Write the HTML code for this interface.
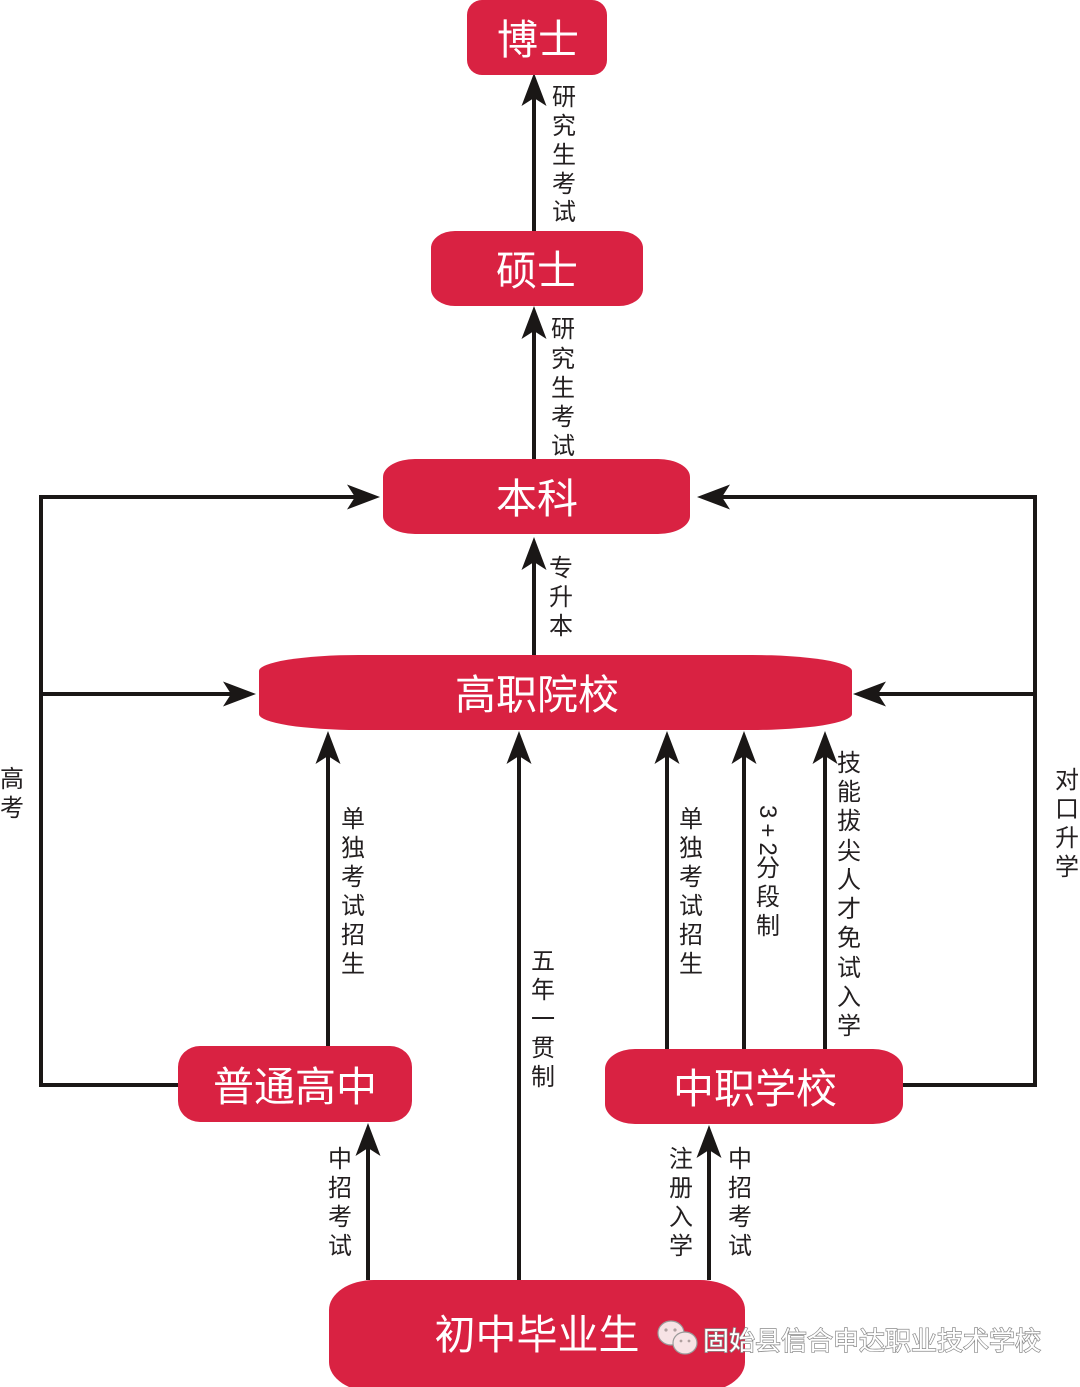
<!DOCTYPE html>
<html>
<head>
<meta charset="utf-8">
<style>
  html,body{margin:0;padding:0;background:#fff;}
  svg{display:block;}
  .lbl{font-family:"Liberation Sans","Noto Sans CJK SC",sans-serif;font-size:24px;fill:#231f20;text-anchor:middle;}
  .box{font-family:"Liberation Sans","Noto Sans CJK SC",sans-serif;font-size:41px;fill:#fff;text-anchor:middle;}
</style>
</head>
<body>
<svg width="1080" height="1387" viewBox="0 0 1080 1387" xmlns="http://www.w3.org/2000/svg">
  <defs>
    <path id="au" d="M0,0 L12.5,33 L0,25 L-12.5,33 Z" fill="#1a1716"/>
    <path id="al" d="M0,0 L33,-12.5 L25,0 L33,12.5 Z" fill="#1a1716"/>
    <path id="ar" d="M0,0 L-33,-12.5 L-25,0 L-33,12.5 Z" fill="#1a1716"/>
  </defs>

  <g stroke="#1a1716" stroke-width="4" fill="none">
    <line x1="534" y1="231" x2="534" y2="95"/>
    <line x1="534" y1="459" x2="534" y2="328"/>
    <line x1="534" y1="655" x2="534" y2="560"/>
    <polyline points="178,1085 41,1085 41,497 360,497"/>
    <line x1="41" y1="694" x2="235" y2="694"/>
    <polyline points="903,1085 1035,1085 1035,497 720,497"/>
    <line x1="1035" y1="694" x2="875" y2="694"/>
    <line x1="328" y1="1046" x2="328" y2="755"/>
    <line x1="519" y1="1280" x2="519" y2="755"/>
    <line x1="667" y1="1049" x2="667" y2="755"/>
    <line x1="744" y1="1049" x2="744" y2="755"/>
    <line x1="825" y1="1049" x2="825" y2="755"/>
    <line x1="368" y1="1280" x2="368" y2="1145"/>
    <line x1="709" y1="1280" x2="709" y2="1148"/>
  </g>

  <use href="#au" x="534" y="73"/>
  <use href="#au" x="534" y="306"/>
  <use href="#au" x="534" y="537"/>
  <use href="#ar" x="380" y="497"/>
  <use href="#ar" x="256" y="694"/>
  <use href="#al" x="697" y="497"/>
  <use href="#al" x="853" y="694"/>
  <use href="#au" x="328" y="731"/>
  <use href="#au" x="519" y="731"/>
  <use href="#au" x="667" y="731"/>
  <use href="#au" x="744" y="731"/>
  <use href="#au" x="825" y="731"/>
  <use href="#au" x="368" y="1123"/>
  <use href="#au" x="709" y="1125"/>

  <g fill="#d92242">
    <rect x="467" y="0" width="140" height="75" rx="15" ry="15"/>
    <rect x="431" y="231" width="212" height="75" rx="24" ry="17"/>
    <rect x="383" y="459" width="307" height="75" rx="32" ry="18"/>
    <rect x="259" y="655" width="593" height="75" rx="100" ry="16"/>
    <rect x="178" y="1046" width="234" height="76" rx="22" ry="21"/>
    <rect x="605" y="1049" width="298" height="75" rx="30" ry="20"/>
    <rect x="329" y="1280" width="416" height="112" rx="45" ry="30"/>
  </g>

  <text class="box" x="538" y="54">博士</text>
  <text class="box" x="537" y="285">硕士</text>
  <text class="box" x="537" y="513">本科</text>
  <text class="box" x="537" y="709">高职院校</text>
  <text class="box" x="295" y="1101">普通高中</text>
  <text class="box" x="755" y="1103">中职学校</text>
  <text class="box" x="537" y="1349">初中毕业生</text>

  <g class="lbl">
    <text x="564" y="105">研</text><text x="564" y="134">究</text><text x="564" y="163">生</text><text x="564" y="192">考</text><text x="564" y="220">试</text>
  </g>
  <g class="lbl">
    <text x="563" y="337">研</text><text x="563" y="367">究</text><text x="563" y="396">生</text><text x="563" y="425">考</text><text x="563" y="454">试</text>
  </g>
  <g class="lbl">
    <text x="561" y="576">专</text><text x="561" y="605">升</text><text x="561" y="634">本</text>
  </g>
  <g class="lbl">
    <text x="12" y="787">高</text><text x="12" y="816">考</text>
  </g>
  <g class="lbl">
    <text x="1067" y="788">对</text><text x="1067" y="817">口</text><text x="1067" y="846">升</text><text x="1067" y="875">学</text>
  </g>
  <g class="lbl">
    <text x="353" y="827">单</text><text x="353" y="856">独</text><text x="353" y="885">考</text><text x="353" y="914">试</text><text x="353" y="943">招</text><text x="353" y="972">生</text>
  </g>
  <g class="lbl">
    <text x="543" y="969">五</text><text x="543" y="998">年</text><text x="543" y="1027">一</text><text x="543" y="1056">贯</text><text x="543" y="1085">制</text>
  </g>
  <g class="lbl">
    <text x="691" y="827">单</text><text x="691" y="856">独</text><text x="691" y="885">考</text><text x="691" y="914">试</text><text x="691" y="943">招</text><text x="691" y="972">生</text>
  </g>
  <text class="lbl" style="text-anchor:start;letter-spacing:5px" transform="translate(760,805) rotate(90)" x="0" y="0">3+2</text>
  <g class="lbl">
    <text x="768" y="876">分</text><text x="768" y="905">段</text><text x="768" y="934">制</text>
  </g>
  <g class="lbl">
    <text x="849" y="771">技</text><text x="849" y="800">能</text><text x="849" y="829">拔</text><text x="849" y="859">尖</text><text x="849" y="888">人</text><text x="849" y="917">才</text><text x="849" y="946">免</text><text x="849" y="976">试</text><text x="849" y="1005">入</text><text x="849" y="1034">学</text>
  </g>
  <g class="lbl">
    <text x="340" y="1167">中</text><text x="340" y="1196">招</text><text x="340" y="1225">考</text><text x="340" y="1254">试</text>
  </g>
  <g class="lbl">
    <text x="681" y="1167">注</text><text x="681" y="1196">册</text><text x="681" y="1225">入</text><text x="681" y="1254">学</text>
  </g>
  <g class="lbl">
    <text x="740" y="1167">中</text><text x="740" y="1196">招</text><text x="740" y="1225">考</text><text x="740" y="1254">试</text>
  </g>

  <g stroke="#9a9a9a" stroke-width="1.2">
    <ellipse cx="671" cy="1333" rx="13" ry="12" fill="#f7e3e5"/>
    <ellipse cx="685" cy="1343" rx="12" ry="11" fill="#f7e3e5"/>
  </g>
  <g fill="#b0a0a0">
    <circle cx="666" cy="1330" r="1.6"/><circle cx="675" cy="1330" r="1.6"/>
    <circle cx="681" cy="1341" r="1.4"/><circle cx="689" cy="1341" r="1.4"/>
  </g>
  <text x="703" y="1350" style="font-family:'Liberation Sans','Noto Sans CJK SC',sans-serif;font-size:26px;fill:#fff;stroke:#8a8a8a;stroke-width:1.4px;paint-order:stroke;">固始县信合申达职业技术学校</text>
</svg>
</body>
</html>
